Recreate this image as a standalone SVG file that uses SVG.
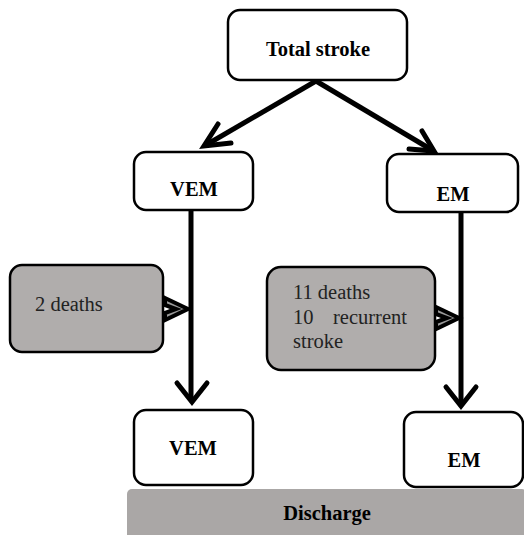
<svg xmlns="http://www.w3.org/2000/svg" width="524" height="535" viewBox="0 0 524 535">
<style>
.box{fill:#fff;stroke:#000;stroke-width:2.5}
.gbox{fill:#b0adac;stroke:#000;stroke-width:2.5}
text{font-family:'Liberation Serif','Times New Roman','DejaVu Serif',serif}
.lbl{font-weight:bold;font-size:20.5px;text-anchor:middle;fill:#000}
.txt{font-size:20.5px;fill:#222}
.ln{stroke:#000;stroke-width:5;fill:none}
.hd{stroke:#000;stroke-width:5;fill:none;stroke-linecap:round;stroke-linejoin:miter}
.dbl{stroke:#000;stroke-width:4;fill:#999;stroke-linejoin:miter}
</style>
<rect x="0" y="0" width="524" height="535" fill="#fff"/>
<g id="connectors">
<line class="ln" x1="316" y1="81" x2="206" y2="145"/>
<path class="hd" d="M218,124 L204,146 L231,143"/>
<line class="ln" x1="316" y1="81" x2="432" y2="150"/>
<path class="hd" d="M422,131 L434,151 L409,149"/>
<line class="ln" x1="191" y1="210" x2="191" y2="400"/>
<path class="hd" d="M177,383 L192,402 L207,383"/>
<line class="ln" x1="461" y1="212" x2="461" y2="405"/>
<path class="hd" d="M446,387 L461,406 L476,387"/>
<path class="dbl" d="M165,298 L188,309 L165,320 L165,313 L176,309 L165,305 Z"/>
<path class="dbl" d="M436,307 L459,318 L436,329 L436,322 L447,318 L436,314 Z"/>
</g>
<g id="total">
<rect class="box" x="228" y="10" width="179" height="70" rx="12"/>
<text class="lbl" x="318" y="56">Total stroke</text>
</g>
<g id="vem1">
<rect class="box" x="134" y="152" width="119" height="58" rx="12"/>
<text class="lbl" x="194" y="196">VEM</text>
</g>
<g id="em1">
<rect class="box" x="387" y="154" width="131" height="58" rx="12"/>
<text class="lbl" x="453" y="201">EM</text>
</g>
<g id="deaths2">
<rect class="gbox" x="10" y="265" width="153" height="87" rx="12"/>
<text class="txt" x="35" y="311">2 deaths</text>
</g>
<g id="deaths11">
<rect class="gbox" x="267" y="267" width="168" height="103" rx="14"/>
<text class="txt" x="293" y="299">11 deaths</text>
<text class="txt" y="324"><tspan x="293">10</tspan><tspan x="333">recurrent</tspan></text>
<text class="txt" x="293" y="348">stroke</text>
</g>
<g id="vem2">
<rect class="box" x="134" y="410" width="119" height="75" rx="12"/>
<text class="lbl" x="193" y="455">VEM</text>
</g>
<g id="em2">
<rect class="box" x="404" y="412" width="119" height="75" rx="12"/>
<text class="lbl" x="464" y="467">EM</text>
</g>
<g id="discharge">
<rect x="127" y="489" width="400" height="50" rx="5" fill="#aaa7a6"/>
<text class="lbl" x="327" y="520">Discharge</text>
</g>
</svg>
